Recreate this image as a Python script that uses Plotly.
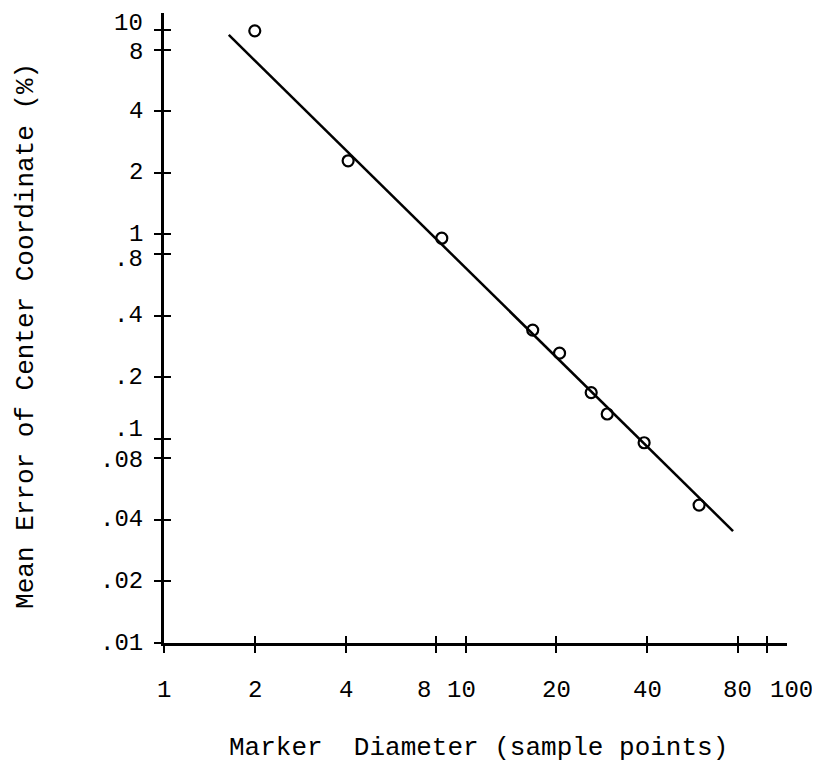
import math
import plotly.graph_objects as go

# Data
diameter = [2.0, 4.08, 8.34, 16.7, 20.5, 26.1, 29.5, 39.1, 59.5]
mean_error = [9.9, 2.29, 0.957, 0.340, 0.262, 0.168, 0.132, 0.0955, 0.0473]
fit_x = [1.64, 77.1]
fit_y = [9.46, 0.0353]

x_ticks = [1, 2, 4, 8, 10, 20, 40, 80, 100]
x_tick_labels = ["1", "2", "4", "8", "10", "20", "40", "80", "100"]
y_ticks = [0.01, 0.02, 0.04, 0.08, 0.1, 0.2, 0.4, 0.8, 1, 2, 4, 8, 10]
y_tick_labels = [".01", ".02", ".04", ".08", ".1", ".2", ".4", ".8", "1", "2", "4", "8", "10"]

FONT = "Liberation Mono, Courier New, monospace"
TICK_SIZE = 24
TITLE_SIZE = 26

# small hand-placement nudges of typed labels (pixels), as in the reference
x_label_nudge = {"8": -12, "10": -4, "100": 24}
y_label_nudge = {"10": -6, "8": 3, ".8": 5, ".1": -9, ".08": 2}

fig = go.Figure()
fig.add_trace(go.Scatter(x=fit_x, y=fit_y, mode="lines",
                         line=dict(color="black", width=2.5), showlegend=False))
fig.add_trace(go.Scatter(x=diameter, y=mean_error, mode="markers",
                         marker=dict(symbol="circle-open", size=11, color="black",
                                     line=dict(width=2.2, color="black")),
                         showlegend=False))
fig.add_trace(go.Scatter(x=[None], y=[None], xaxis="x2", yaxis="y2", showlegend=False))

xr = [0, 2.066]
yr = [-2, 1.083]

annotations = []
for v, t in zip(x_ticks, x_tick_labels):
    annotations.append(dict(text=t, x=math.log10(v), xref="x", y=0, yref="paper",
                            xanchor="center", yanchor="middle", showarrow=False,
                            xshift=x_label_nudge.get(t, 0), yshift=-47, borderpad=0,
                            font=dict(family=FONT, size=TICK_SIZE)))
for v, t in zip(y_ticks, y_tick_labels):
    annotations.append(dict(text=t, x=0, xref="paper", y=math.log10(v), yref="y",
                            xanchor="right", yanchor="middle", showarrow=False,
                            xshift=-20, yshift=-y_label_nudge.get(t, 0), borderpad=0,
                            font=dict(family=FONT, size=TICK_SIZE)))
annotations += [
    dict(text="Marker  Diameter (sample points)", xref="paper", yref="paper",
         x=0.505, y=-0.1667, showarrow=False, xanchor="center", yanchor="middle",
         borderpad=0, font=dict(family=FONT, size=TITLE_SIZE)),
    dict(text="Mean Error of Center Coordinate (%)", xref="paper", yref="paper",
         x=-0.222, y=0.487, showarrow=False, textangle=-90,
         xanchor="center", yanchor="middle", borderpad=0,
         font=dict(family=FONT, size=TITLE_SIZE)),
]

fig.update_layout(
    width=820, height=767,
    margin=dict(l=156, r=41, t=5, b=132),
    paper_bgcolor="white", plot_bgcolor="white",
    font=dict(family=FONT, size=20, color="black"),
    xaxis=dict(type="log", range=xr, showgrid=False, zeroline=False, automargin=False,
               showline=True, linewidth=3, linecolor="black",
               ticks="outside", ticklen=7, tickwidth=2, tickcolor="black",
               tickvals=x_ticks, showticklabels=False),
    yaxis=dict(type="log", range=yr, showgrid=False, zeroline=False, automargin=False,
               showline=True, linewidth=3, linecolor="black",
               ticks="outside", ticklen=7, tickwidth=2, tickcolor="black",
               tickvals=y_ticks, showticklabels=False),
    xaxis2=dict(type="log", range=xr, overlaying="x", anchor="y2", side="bottom",
                showgrid=False, zeroline=False, showline=False, automargin=False,
                ticks="inside", ticklen=7, tickwidth=2, tickcolor="black",
                tickvals=x_ticks, showticklabels=False),
    yaxis2=dict(type="log", range=yr, overlaying="y", anchor="x2", side="left",
                showgrid=False, zeroline=False, showline=False, automargin=False,
                ticks="inside", ticklen=7, tickwidth=2, tickcolor="black",
                tickvals=y_ticks, showticklabels=False),
    annotations=annotations,
)

fig.write_html("out.html")
